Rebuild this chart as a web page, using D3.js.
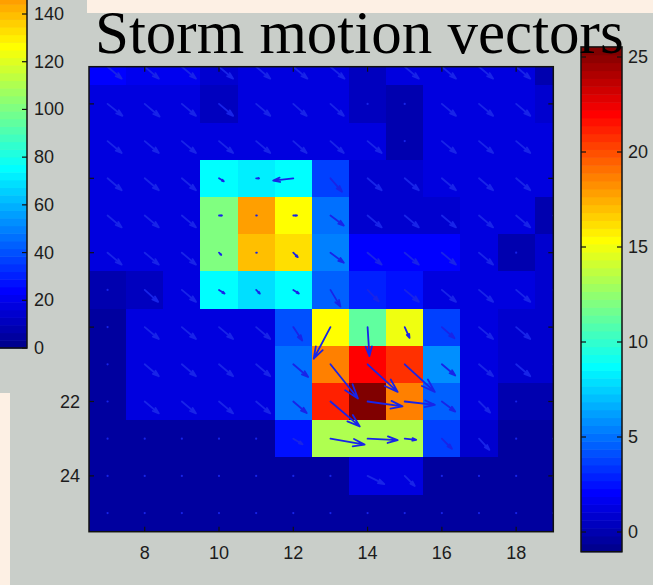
<!DOCTYPE html>
<html>
<head>
<meta charset="utf-8">
<script src="https://cdn.jsdelivr.net/npm/d3@7"></script>
<style>
  html, body { margin: 0; padding: 0; background: #fdf0e4; }
  svg { display: block; }
  text { font-family: "Liberation Sans", Arial, sans-serif; }
</style>
</head>
<body>
<div id="content"></div>
<script>
// Grid of the storm field: columns (x) and rows (y, increasing downwards).
var xCols = [7, 8, 9, 10, 11, 12, 13, 14, 15, 16, 17, 18, 19];
var yRows = [13, 14, 15, 16, 17, 18, 19, 20, 21, 22, 23, 24, 25];

// Cell values (right colour bar scale).
var cellValues = [
  [2.0, 1.5, 1.5, 1.0, 1.2, 1.2, 1.2, 0.5, 1.2, 1.2, 1.2, 1.2, 0.2],
  [1.3, 1.2, 1.3, 0.6, 1.2, 1.2, 1.2, 0.4, 0.1, 1.2, 1.2, 1.2, 1.0],
  [1.3, 1.3, 1.3, 1.3, 1.3, 1.3, 1.3, 1.2, 0.1, 1.2, 1.2, 1.2, 1.2],
  [1.2, 1.1, 1.3, 8.9, 8.3, 8.9, 3.8, 1.0, 0.9, 1.2, 1.2, 1.2, 1.2],
  [1.2, 1.2, 1.2, 12.2, 17.8, 15.5, 5.1, 1.0, 1.0, 1.0, 1.3, 1.1, 0.2],
  [1.1, 1.1, 1.1, 12.2, 16.9, 16.1, 5.4, 2.0, 2.0, 2.0, 1.2, 0.1, 0.9],
  [-0.2, 0.6, 1.2, 8.9, 8.0, 8.9, 4.4, 3.0, 2.3, 1.2, 1.2, 1.2, 0.9],
  [-0.3, 1.2, 1.2, 1.1, 1.1, 4.1, 15.5, 11.0, 15.0, 3.8, 1.2, 0.9, 1.0],
  [-0.3, 1.2, 1.2, 1.2, 1.1, 5.1, 18.7, 22.2, 20.6, 5.9, 1.2, 0.9, 1.0],
  [-0.3, 1.2, 1.2, 1.2, 1.1, 5.1, 21.1, 25.3, 18.6, 4.4, 1.2, -0.2, -0.2],
  [-0.4, -0.4, -0.4, -0.4, -0.4, 2.4, 13.1, 13.1, 13.1, 3.8, 1.0, -0.3, -0.3],
  [-0.4, -0.4, -0.4, -0.4, -0.4, -0.4, -0.4, 1.2, 1.2, -0.4, -0.4, -0.4, -0.4],
  [-0.4, -0.4, -0.4, -0.4, -0.4, -0.4, -0.4, -0.4, -0.4, -0.4, -0.4, -0.4, -0.4]
];

// Storm motion vector components (x and y, in grid units).
var uComp = [
  [0.38, 0.38, 0.38, 0.38, 0.38, 0.38, 0.38, 0, 0.38, 0.38, 0.38, 0.38, 0.36],
  [0.40, 0.40, 0.38, 0.38, 0.38, 0.36, 0.36, 0, 0, 0.38, 0.38, 0.38, 0.36],
  [0.38, 0.38, 0.38, 0.38, 0.38, 0.36, 0.36, 0.38, 0, 0.38, 0.38, 0.38, 0.36],
  [0.38, 0.38, 0.38, 0.13, 0.08, -0.54, 0.31, 0.38, 0.38, 0.38, 0.38, 0.38, 0.36],
  [0.38, 0.38, 0.38, 0.08, 0.02, 0.10, 0.36, 0.38, 0.38, 0.38, 0.38, 0.38, 0],
  [0.38, 0.38, 0.38, 0.06, 0.02, 0.12, 0.36, 0.38, 0.38, 0.38, 0.38, 0, 0.36],
  [0, 0.36, 0.38, 0.15, 0.10, 0.15, 0.27, 0.30, 0.38, 0.38, 0.38, 0.38, 0.36],
  [0, 0.38, 0.38, 0.38, 0.38, 0.24, -0.45, 0.05, 0.13, 0.34, 0.38, 0.38, 0.36],
  [0, 0.38, 0.38, 0.38, 0.38, 0.40, 0.74, 0.81, 0.81, 0.36, 0.38, 0.38, 0.36],
  [0, 0.38, 0.38, 0.38, 0.38, 0.36, 0.79, 0.94, 0.81, 0.36, 0.30, 0, 0],
  [0, 0, 0, 0, 0, 0.25, 0.92, 0.81, 0.31, 0.27, 0.28, 0, 0],
  [0, 0, 0, 0, 0, 0, 0, 0.45, 0.27, 0, 0, 0, 0],
  [0, 0, 0, 0, 0, 0, 0, 0, 0, 0, 0, 0, 0]
];
var vComp = [
  [0.32, 0.32, 0.32, 0.32, 0.32, 0.32, 0.32, 0, 0.32, 0.32, 0.32, 0.32, 0.30],
  [0.32, 0.34, 0.32, 0.32, 0.32, 0.32, 0.32, 0, 0, 0.32, 0.32, 0.32, 0.30],
  [0.32, 0.32, 0.32, 0.32, 0.32, 0.32, 0.32, 0.32, 0, 0.32, 0.32, 0.32, 0.30],
  [0.32, 0.32, 0.32, 0.08, 0, 0.06, 0.36, 0.32, 0.32, 0.32, 0.32, 0.32, 0.30],
  [0.32, 0.32, 0.32, 0, 0, 0, 0.27, 0.32, 0.32, 0.32, 0.32, 0.32, 0],
  [0.32, 0.32, 0.32, 0.06, 0, 0.12, 0.27, 0.32, 0.32, 0.32, 0.32, 0, 0.30],
  [0, 0.32, 0.32, 0.10, 0.10, 0.10, 0.45, 0.31, 0.32, 0.32, 0.32, 0.32, 0.30],
  [0, 0.32, 0.32, 0.32, 0.32, 0.36, 0.85, 0.78, 0.29, 0.30, 0.32, 0.32, 0.30],
  [0, 0.32, 0.32, 0.32, 0.32, 0.34, 0.92, 0.74, 0.74, 0.30, 0.32, 0.32, 0.30],
  [0, 0.32, 0.32, 0.32, 0.32, 0.31, 0.67, 0.13, 0.09, 0.27, 0.30, 0, 0],
  [0, 0, 0, 0, 0, 0.15, 0.16, 0.04, 0.03, 0.27, 0.30, 0, 0],
  [0, 0, 0, 0, 0, 0, 0, 0.22, 0.27, 0, 0, 0, 0],
  [0, 0, 0, 0, 0, 0, 0, 0, 0, 0, 0, 0, 0]
];

// Colour bar tick labels.
var mainBarTicks = [0, 5, 10, 15, 20, 25];
var sideBarTicks = [0, 20, 40, 60, 80, 100, 120, 140];
var xTicks = [8, 10, 12, 14, 16, 18];
var yTicks = [14, 16, 18, 20, 22, 24];
var title = "Storm motion vectors";

// Matlab style jet(64) colour map.
function jetMap(m) {
  var n = Math.ceil(m / 4), u = [], cols = [];
  for (var i = 1; i <= n; i++) u.push(i / n);
  for (var i = 1; i < n; i++) u.push(1);
  for (var i = n; i >= 1; i--) u.push(i / n);
  for (var i = 0; i < m; i++) cols.push([0, 0, 0]);
  var g0 = Math.ceil(n / 2) - (m % 4 == 1 ? 1 : 0);
  u.forEach(function(val, k) {
    var g = g0 + k + 1, r = g + n, b = g - n;
    if (r <= m) cols[r - 1][0] = val;
    if (g <= m) cols[g - 1][1] = val;
    if (b >= 1) cols[b - 1][2] = val;
  });
  return cols.map(function(c) {
    return d3.rgb(c[0] * 255, c[1] * 255, c[2] * 255).toString();
  });
}
var jet = jetMap(64);
function colourScale(lo, hi) {
  return d3.scaleQuantize().domain([lo, hi]).range(jet);
}

var W = 653, H = 585;
var svg = d3.select('#content').append('svg')
    .attr('width', W).attr('height', H);

var grey = '#c9cec9';
var ink = '#1c1c1c';

// Main figure window.
svg.append('rect').attr('x', 10).attr('y', 13)
    .attr('width', W - 10).attr('height', H - 13).attr('fill', grey);

// Main axes.
var plot = {left : 89, right : 553.3, top : 66.7, bottom : 531.7};
var scaleX = d3.scaleLinear().domain([6.5, 19]).range([plot.left, plot.right]);
var scaleY = d3.scaleLinear().domain([13, 25.5]).range([plot.top, plot.bottom]);
var cmin = -1.04, cmax = 25.53;
var colour = colourScale(cmin, cmax);

svg.append('clipPath').attr('id', 'plotclip').append('rect')
    .attr('x', plot.left).attr('y', plot.top)
    .attr('width', plot.right - plot.left)
    .attr('height', plot.bottom - plot.top);

var cells = [];
yRows.forEach(function(yv, i) {
  xCols.forEach(function(xv, j) {
    cells.push({x : xv, y : yv, value : cellValues[i][j],
                u : uComp[i][j], v : vComp[i][j]});
  });
});

var field = svg.append('g').attr('clip-path', 'url(#plotclip)');
field.selectAll('rect.cell')
    .data(cells)
    .enter()
    .append('rect')
    .attr('class', 'cell')
    .attr('x', function(d) { return scaleX(d.x - 0.5); })
    .attr('y', function(d) { return scaleY(d.y - 0.5); })
    .attr('width', function(d) { return scaleX(d.x + 0.5) - scaleX(d.x - 0.5) + 0.6; })
    .attr('height', function(d) { return scaleY(d.y + 0.5) - scaleY(d.y - 0.5) + 0.6; })
    .attr('shape-rendering', 'crispEdges')
    .attr('fill', function(d) { return colour(d.value); });

// Quiver arrows, with Matlab's arrow head geometry.
var arrowColour = '#1824e8';
var alpha = 0.33, beta = 0.33;
function arrowPath(d) {
  var x0 = d.x, y0 = d.y, x1 = d.x + d.u, y1 = d.y + d.v;
  var hx1 = x1 - alpha * (d.u + beta * d.v), hy1 = y1 - alpha * (d.v - beta * d.u);
  var hx2 = x1 - alpha * (d.u - beta * d.v), hy2 = y1 - alpha * (d.v + beta * d.u);
  return 'M' + scaleX(x0) + ',' + scaleY(y0) + 'L' + scaleX(x1) + ',' + scaleY(y1) +
         'M' + scaleX(hx1) + ',' + scaleY(hy1) + 'L' + scaleX(x1) + ',' + scaleY(y1) +
         'L' + scaleX(hx2) + ',' + scaleY(hy2);
}
var moving = cells.filter(function(d) { return d.u !== 0 || d.v !== 0; });
var still = cells.filter(function(d) { return d.u === 0 && d.v === 0; });
field.selectAll('path.arrow')
    .data(moving)
    .enter()
    .append('path')
    .attr('class', 'arrow')
    .attr('d', arrowPath)
    .attr('fill', 'none')
    .attr('stroke', arrowColour)
    .attr('stroke-width', 1.8)
    .attr('stroke-linecap', 'round')
    .attr('stroke-linejoin', 'round');
field.selectAll('circle.dot')
    .data(still)
    .enter()
    .append('circle')
    .attr('class', 'dot')
    .attr('cx', function(d) { return scaleX(d.x); })
    .attr('cy', function(d) { return scaleY(d.y); })
    .attr('r', 1.1)
    .attr('fill', arrowColour);

// Axes box, inward ticks and labels.
var axes = svg.append('g');
axes.append('rect')
    .attr('x', plot.left).attr('y', plot.top)
    .attr('width', plot.right - plot.left).attr('height', plot.bottom - plot.top)
    .attr('fill', 'none').attr('stroke', '#111').attr('stroke-width', 1.5);
var tl = 5;
xTicks.forEach(function(t) {
  var px = scaleX(t);
  axes.append('line').attr('x1', px).attr('x2', px)
      .attr('y1', plot.bottom).attr('y2', plot.bottom - tl)
      .attr('stroke', '#111').attr('stroke-width', 1.2);
  axes.append('line').attr('x1', px).attr('x2', px)
      .attr('y1', plot.top).attr('y2', plot.top + tl)
      .attr('stroke', '#111').attr('stroke-width', 1.2);
  axes.append('text').attr('x', px).attr('y', 553)
      .attr('text-anchor', 'middle').attr('dominant-baseline', 'central')
      .attr('font-size', 18).attr('fill', ink).text(t);
});
// The pasted panel hides the labels of the upper y ticks.
var overlayBottom = 393;
yTicks.forEach(function(t) {
  var py = scaleY(t);
  axes.append('line').attr('x1', plot.left).attr('x2', plot.left + tl)
      .attr('y1', py).attr('y2', py)
      .attr('stroke', '#111').attr('stroke-width', 1.2);
  axes.append('line').attr('x1', plot.right).attr('x2', plot.right - tl)
      .attr('y1', py).attr('y2', py)
      .attr('stroke', '#111').attr('stroke-width', 1.2);
  if (py > overlayBottom) {
    axes.append('text').attr('x', 80).attr('y', py)
        .attr('text-anchor', 'end').attr('dominant-baseline', 'central')
        .attr('font-size', 18).attr('fill', ink).text(t);
  }
});

// Right colour bar.
var bar = {left : 581, right : 622};
var barY = d3.scaleLinear().domain([0, 25]).range([532, 57]);
var bands = jet.map(function(c, i) {
  return {lo : cmin + (cmax - cmin) * i / 64, hi : cmin + (cmax - cmin) * (i + 1) / 64, c : c};
});
var cbar = svg.append('g');
cbar.selectAll('rect')
    .data(bands)
    .enter()
    .append('rect')
    .attr('x', bar.left)
    .attr('y', function(d) { return barY(d.hi); })
    .attr('width', bar.right - bar.left)
    .attr('height', function(d) { return barY(d.lo) - barY(d.hi) + 0.5; })
    .attr('fill', function(d) { return d.c; });
cbar.append('rect')
    .attr('x', bar.left).attr('y', barY(cmax))
    .attr('width', bar.right - bar.left).attr('height', barY(cmin) - barY(cmax))
    .attr('fill', 'none').attr('stroke', '#111').attr('stroke-width', 1.5);
mainBarTicks.forEach(function(t) {
  var py = barY(t);
  cbar.append('line').attr('x1', bar.left).attr('x2', bar.left + 5)
      .attr('y1', py).attr('y2', py).attr('stroke', '#111').attr('stroke-width', 1.2);
  cbar.append('line').attr('x1', bar.right).attr('x2', bar.right - 5)
      .attr('y1', py).attr('y2', py).attr('stroke', '#111').attr('stroke-width', 1.2);
  cbar.append('text').attr('x', 628).attr('y', py)
      .attr('dominant-baseline', 'central')
      .attr('font-size', 18).attr('fill', ink).text(t);
});

// Colour bar of another figure, pasted over the top left corner.
var side = svg.append('g');
side.append('rect').attr('x', 0).attr('y', 0).attr('width', 87).attr('height', overlayBottom)
    .attr('fill', grey);
var sideMin = 0, sideMax = 205;
var sideY = d3.scaleLinear().domain([0, 140]).range([348, 14]);
var sideBands = jet.map(function(c, i) {
  return {lo : sideMin + (sideMax - sideMin) * i / 64,
          hi : sideMin + (sideMax - sideMin) * (i + 1) / 64, c : c};
});
side.selectAll('rect.band')
    .data(sideBands)
    .enter()
    .append('rect')
    .attr('class', 'band')
    .attr('x', -20)
    .attr('y', function(d) { return sideY(d.hi); })
    .attr('width', 47)
    .attr('height', function(d) { return sideY(d.lo) - sideY(d.hi) + 0.5; })
    .attr('fill', function(d) { return d.c; });
side.append('rect')
    .attr('x', -20).attr('y', sideY(sideMax))
    .attr('width', 47).attr('height', sideY(sideMin) - sideY(sideMax))
    .attr('fill', 'none').attr('stroke', '#111').attr('stroke-width', 1.5);
sideBarTicks.forEach(function(t) {
  var py = sideY(t);
  side.append('line').attr('x1', 27).attr('x2', 22)
      .attr('y1', py).attr('y2', py).attr('stroke', '#111').attr('stroke-width', 1.2);
  side.append('text').attr('x', 34).attr('y', py)
      .attr('dominant-baseline', 'central')
      .attr('font-size', 18).attr('fill', ink).text(t);
});

// Title, drawn last: it runs over the top of the colour bar.
svg.append('text')
    .attr('x', 95).attr('y', 53)
    .style('font-family', '"Liberation Serif", "Times New Roman", serif')
    .attr('font-size', 61).attr('fill', '#000')
    .text(title);
</script>
</body>
</html>
